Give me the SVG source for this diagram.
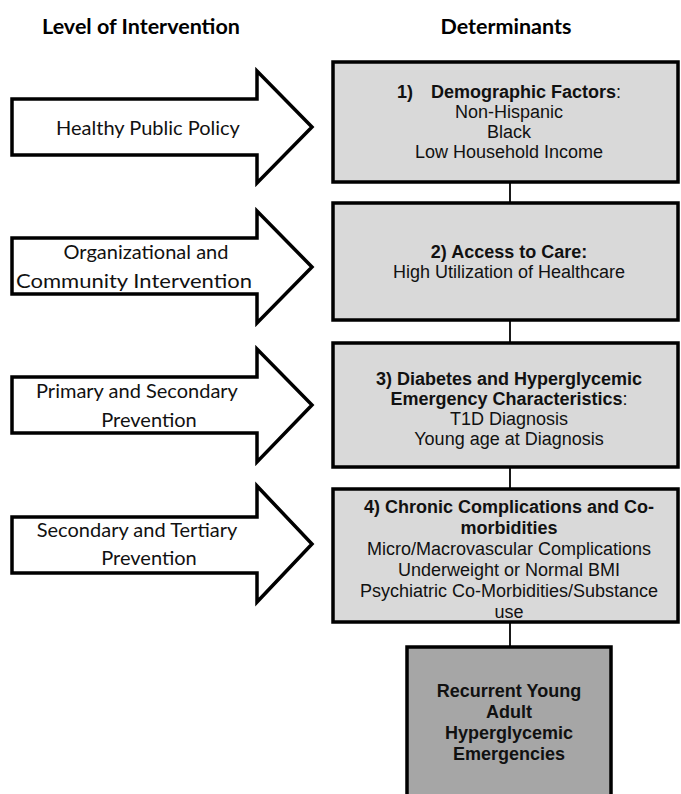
<svg xmlns="http://www.w3.org/2000/svg" width="681" height="794" viewBox="0 0 681 794">
<style>
.bg{fill:#ffffff}
.arrow{fill:#ffffff;stroke:#000;stroke-width:3.5;stroke-linejoin:miter}
.box{fill:#d9d9d9;stroke:#000;stroke-width:3.5}
.box5{fill:#a6a6a6;stroke:#000;stroke-width:3.5}
.conn{stroke:#000;stroke-width:1.8;fill:none}
.title{font-family:Lato,"Open Sans","DejaVu Sans",sans-serif;font-weight:bold;font-size:21.5px;fill:#000;text-anchor:middle}
.lvl{font-family:Lato,"Open Sans","DejaVu Sans",sans-serif;font-size:20px;fill:#111;text-anchor:middle}
.bt{font-family:"Liberation Sans",Arial,sans-serif;font-size:18px;fill:#111;text-anchor:middle}
.b{font-weight:bold}
.bt5{font-family:"Liberation Sans",Arial,sans-serif;font-size:18px;font-weight:bold;fill:#111;text-anchor:middle}
</style>
<rect class="bg" x="0" y="0" width="681" height="794"/>
<g id="titles">
<text class="title" x="141" y="34">Level of Intervention</text>
<text class="title" x="506" y="34">Determinants</text>
</g>
<g id="connectors">
<line class="conn" x1="510" y1="182" x2="510" y2="203"/>
<line class="conn" x1="510" y1="320" x2="510" y2="343"/>
<line class="conn" x1="510" y1="467" x2="510" y2="489"/>
<line class="conn" x1="510" y1="622" x2="510" y2="647"/>
</g>
<g id="arrow1">
<polygon class="arrow" points="12,99 257,99 257,71 312,127 257,183 257,155 12,155"/>
<text class="lvl" x="148" y="135">Healthy Public Policy</text>
</g>
<g id="arrow2">
<polygon class="arrow" points="12,238 257,238 257,211 312,267 257,323 257,294 12,294"/>
<text class="lvl" x="146" y="259">Organizational and</text>
<text class="lvl" x="134" y="288" textLength="236" lengthAdjust="spacingAndGlyphs">Community Intervention</text>
</g>
<g id="arrow3">
<polygon class="arrow" points="12,377 257,377 257,349 312,405 257,462 257,433 12,433"/>
<text class="lvl" x="137" y="398">Primary and Secondary</text>
<text class="lvl" x="149" y="427">Prevention</text>
</g>
<g id="arrow4">
<polygon class="arrow" points="12,517 257,517 257,486 312,544 257,602 257,573 12,573"/>
<text class="lvl" x="137" y="537">Secondary and Tertiary</text>
<text class="lvl" x="149" y="565">Prevention</text>
</g>
<g id="box1">
<rect class="box" x="333" y="62" width="345" height="120"/>
<text class="bt" x="509" y="98"><tspan class="b">1)</tspan><tspan class="b" dx="18">Demographic Factors</tspan>:</text>
<text class="bt" x="509" y="118">Non-Hispanic</text>
<text class="bt" x="509" y="138">Black</text>
<text class="bt" x="509" y="158">Low Household Income</text>
</g>
<g id="box2">
<rect class="box" x="333" y="203" width="345" height="117"/>
<text class="bt b" x="509" y="258">2) Access to Care:</text>
<text class="bt" x="509" y="278">High Utilization of Healthcare</text>
</g>
<g id="box3">
<rect class="box" x="333" y="343" width="345" height="124"/>
<text class="bt b" x="509" y="385">3) Diabetes and Hyperglycemic</text>
<text class="bt" x="509" y="405"><tspan class="b">Emergency Characteristics</tspan>:</text>
<text class="bt" x="509" y="425">T1D Diagnosis</text>
<text class="bt" x="509" y="445">Young age at Diagnosis</text>
</g>
<g id="box4">
<rect class="box" x="333" y="489" width="345" height="133"/>
<text class="bt b" x="509" y="513">4) Chronic Complications and Co-</text>
<text class="bt b" x="509" y="534">morbidities</text>
<text class="bt" x="509" y="555">Micro/Macrovascular Complications</text>
<text class="bt" x="509" y="576">Underweight or Normal BMI</text>
<text class="bt" x="509" y="597">Psychiatric Co-Morbidities/Substance</text>
<text class="bt" x="509" y="618">use</text>
</g>
<g id="box5">
<rect class="box5" x="407" y="647" width="204" height="155"/>
<text class="bt5" x="509" y="697">Recurrent Young</text>
<text class="bt5" x="509" y="718">Adult</text>
<text class="bt5" x="509" y="739">Hyperglycemic</text>
<text class="bt5" x="509" y="760">Emergencies</text>
</g>
</svg>
